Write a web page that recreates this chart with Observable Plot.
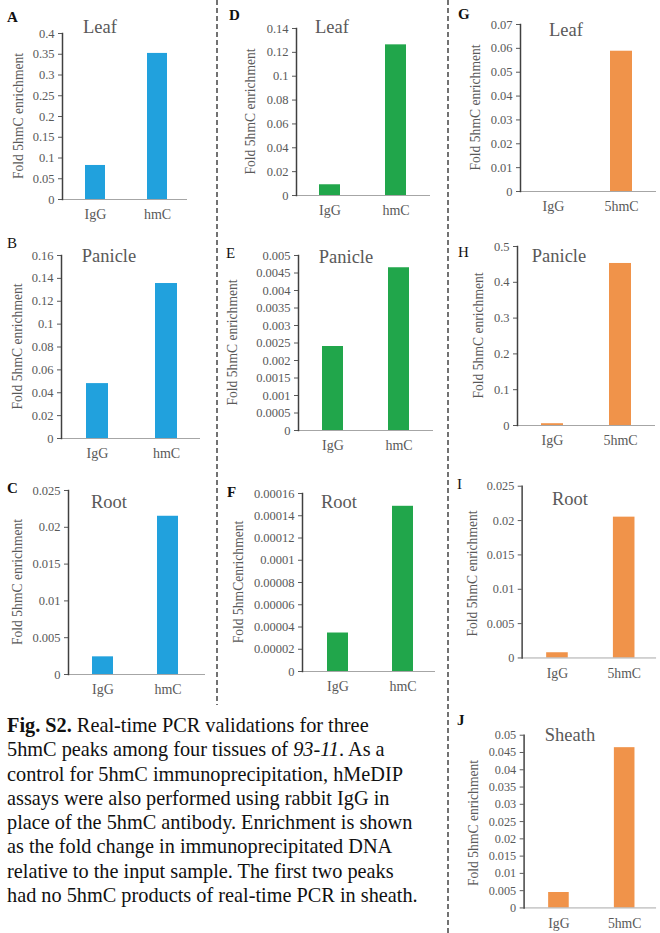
<!DOCTYPE html>
<html><head><meta charset="utf-8">
<script src="https://cdn.jsdelivr.net/npm/d3@7"></script>
<script src="https://cdn.jsdelivr.net/npm/@observablehq/plot@0.6"></script>
<style>
html,body{margin:0;padding:0;background:#fff;overflow:hidden}
#page{position:relative;width:660px;height:933px;overflow:hidden;font-family:"Liberation Serif","Times New Roman",Times,"DejaVu Serif",serif}
.panel{position:absolute}
#overlay{position:absolute;left:0;top:0;pointer-events:none}
.cap{position:absolute;left:7px;top:713px;font-size:20.3px;line-height:24.3px;color:#111;white-space:nowrap}
</style></head><body><div id="page"></div>
<script>
// ---- data ----
const panelLetters = ["A","B","C","D","E","F","G","H","I","J"];
const tissues = ["Leaf","Panicle","Root","Leaf","Panicle","Root","Leaf","Panicle","Root","Sheath"];
const peakOfPanel = [0,0,0,1,1,1,2,2,2,2];
const peakCategories = [["IgG","hmC"],["IgG","hmC"],["IgG","5hmC"]];
const peakColors = ["#21a1dd","#21a64b","#f0934a"];
const igGValues = [0.082, 0.048, 0.0024, 0.009, 0.0024, 0.0000346, 0, 0.005, 0.00076, 0.00447];
const hmcValues = [0.352, 0.1355, 0.0215, 0.1263, 0.00465, 0.0001485, 0.0588, 0.4526, 0.0205, 0.0464];
const yMax = [0.4, 0.16, 0.025, 0.14, 0.005, 0.00016, 0.07, 0.5, 0.025, 0.05];
const yTickStep = [0.05, 0.02, 0.005, 0.02, 0.0005, 0.00002, 0.01, 0.1, 0.005, 0.005];
const yAxisLabels = ["Fold 5hmC enrichment","Fold 5hmC enrichment","Fold 5hmC enrichment",
  "Fold 5hmC enrichment","Fold 5hmC enrichment","Fold 5hmCenrichment",
  "Fold 5hmC enrichment","Fold 5hmC enrichment","Fold 5hmC enrichment","Fold 5hmC enrichment"];
const boldLetter = [true,false,true,true,false,true,true,false,false,true];

// ---- layout (pixel geometry of each panel) ----
const layout = [
  {col:0,   axisX:62,  yTop:33,  yZero:199, c1:95,    c2:157.5, xRight:187, labelX:18,  letterX:7,   letterY:22,  titleX:100, titleY:33},
  {col:0,   axisX:61,  yTop:255, yZero:438, c1:97,    c2:166,   xRight:200, labelX:17,  letterX:7,   letterY:248, titleX:109, titleY:262},
  {col:0,   axisX:68,  yTop:490, yZero:674, c1:102.5, c2:168,   xRight:205, labelX:17,  letterX:7,   letterY:493, titleX:109, titleY:508},
  {col:220, axisX:296, yTop:28,  yZero:195, c1:329,   c2:395.5, xRight:430, labelX:250, letterX:229, letterY:20,  titleX:332, titleY:33},
  {col:220, axisX:298, yTop:255, yZero:430, c1:332.5, c2:399,   xRight:433, labelX:232, letterX:226, letterY:258, titleX:346, titleY:263},
  {col:220, axisX:302, yTop:493, yZero:671, c1:337.5, c2:402.5, xRight:435, labelX:238, letterX:227, letterY:497, titleX:339, titleY:508},
  {col:450, axisX:520, yTop:24,  yZero:191, c1:553,   c2:621.5, xRight:656, labelX:475, letterX:458, letterY:19,  titleX:566, titleY:36},
  {col:450, axisX:517, yTop:246, yZero:425, c1:552,   c2:620.5, xRight:655, labelX:478, letterX:458, letterY:257, titleX:559, titleY:262},
  {col:450, axisX:523, yTop:486, yZero:661, c1:558.5, c2:627,   xRight:660, labelX:472, letterX:457, letterY:489, titleX:570, titleY:505},
  {col:450, axisX:525, yTop:735, yZero:911, c1:560.5, c2:628,   xRight:660, labelX:473, letterX:457, letterY:725, titleX:570, titleY:741}
];

const page = document.getElementById("page");
const FONT = "'Liberation Serif', 'Times New Roman', Times, 'DejaVu Serif', serif";
const MT = 14, MB = 30;

layout.forEach((L, i) => {
  const p = peakOfPanel[i];
  const cats = peakCategories[p];
  const rows = [{category: cats[0], value: igGValues[i]}, {category: cats[1], value: hmcValues[i]}];
  const n = Math.round(yMax[i] / yTickStep[i]);
  const ticks = d3.range(0, n + 1).map(k => +(k * yTickStep[i]).toFixed(8));
  const step = L.c2 - L.c1;
  const W = L.xRight - L.col + 4;
  const H = L.yZero - (L.yTop - MT) + MB;
  const svg = Plot.plot({
    width: W, height: H,
    marginTop: MT, marginBottom: MB,
    marginLeft: L.axisX - L.col, marginRight: W - (L.xRight - L.col),
    style: {fontFamily: FONT, background: "transparent", overflow: "visible"},
    x: {type: "band", domain: cats, range: [L.c1 - step / 2 - L.col, L.c2 + step / 2 - L.col],
        paddingInner: 0.68, paddingOuter: 0.34, axis: null},
    y: {domain: [0, yMax[i]], axis: null},
    marks: [
      Plot.barY(rows, {x: "category", y: "value", fill: peakColors[p]}),
      Plot.ruleY([0], {stroke: "#a6a6a6", strokeWidth: 1}),
      Plot.axisY({ticks, tickFormat: d => String(d), tickSize: 4, tickPadding: 4,
                  fontSize: 12.5, color: "#595959", label: null}),
      Plot.axisX({tickSize: 0, tickPadding: 10, fontSize: 14, color: "#595959", label: null}),
      Plot.frame({anchor: "left", stroke: "#404040", strokeWidth: 1.5})
    ]
  });
  svg.style.fontFamily = FONT;
  const div = document.createElement("div");
  div.className = "panel";
  div.style.left = L.col + "px";
  div.style.top = (L.yTop - MT) + "px";
  div.appendChild(svg);
  page.appendChild(div);
});

// overlay: separators, panel letters, tissue titles, y-axis titles
const ov = d3.select(page).append("svg").attr("id", "overlay")
  .attr("width", 660).attr("height", 933).style("font-family", FONT);
ov.append("line").attr("x1", 217).attr("x2", 217).attr("y1", 0).attr("y2", 705)
  .attr("stroke", "#444").attr("stroke-width", 1.5).attr("stroke-dasharray", "5,3");
ov.append("line").attr("x1", 448).attr("x2", 448).attr("y1", 0).attr("y2", 933)
  .attr("stroke", "#444").attr("stroke-width", 1.5).attr("stroke-dasharray", "5,3");

layout.forEach((L, i) => {
  ov.append("text").attr("x", L.letterX).attr("y", L.letterY)
    .attr("font-size", 15).attr("font-weight", boldLetter[i] ? "bold" : "normal")
    .attr("fill", "#111").text(panelLetters[i]);
  ov.append("text").attr("x", L.titleX).attr("y", L.titleY)
    .attr("font-size", 18.5).attr("text-anchor", "middle").attr("fill", "#595959").text(tissues[i]);
  const cy = (L.yTop + L.yZero) / 2;
  ov.append("text").attr("transform", `translate(${L.labelX},${cy}) rotate(-90)`)
    .attr("font-size", 13.6).attr("text-anchor", "middle").attr("dominant-baseline", "central")
    .attr("fill", "#595959").text(yAxisLabels[i]);
});

// caption
const cap = document.createElement("div");
cap.className = "cap";
cap.innerHTML = "<b>Fig. S2.</b> Real-time PCR validations for three<br>" +
  "5hmC peaks among four tissues of <i>93-11</i>. As a<br>" +
  "control for 5hmC immunoprecipitation, hMeDIP<br>" +
  "assays were also performed using rabbit IgG in<br>" +
  "place of the 5hmC antibody. Enrichment is shown<br>" +
  "as the fold change in immunoprecipitated DNA<br>" +
  "relative to the input sample. The first two peaks<br>" +
  "had no 5hmC products of real-time PCR in sheath.";
page.appendChild(cap);
</script></body></html>
